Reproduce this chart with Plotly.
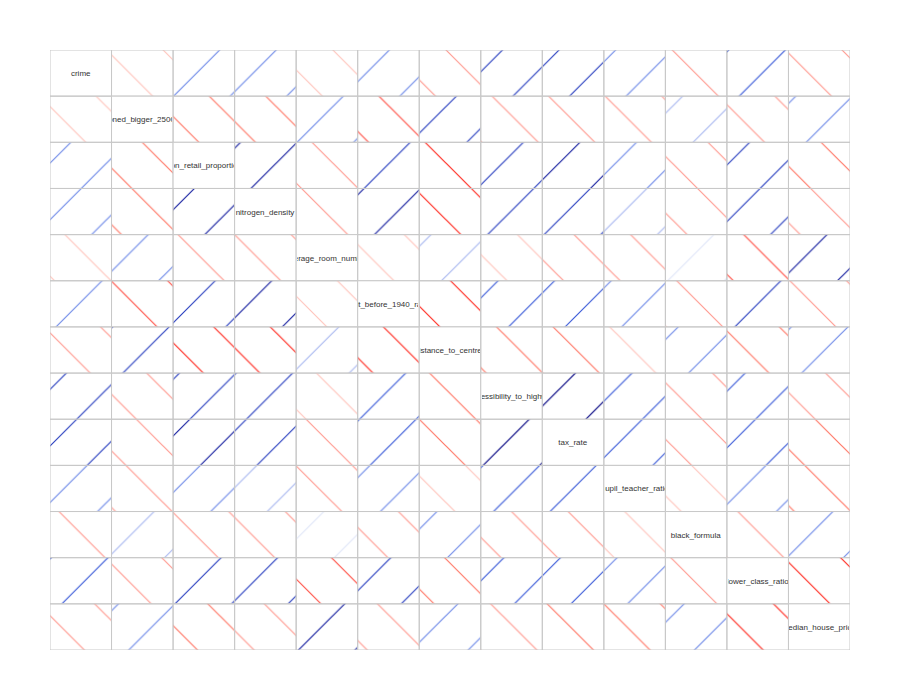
import plotly.graph_objects as go

labels = ["crime", "zoned_bigger_25000", "non_retail_proportion", "nitrogen_density",
          "average_room_number", "built_before_1940_ratio", "distance_to_centres",
          "accessibility_to_highway", "tax_rate", "pupil_teacher_ratio",
          "black_formula", "lower_class_ratio", "median_house_price"]

corr = [
    [1, -0.20, 0.41, 0.42, -0.22, 0.35, -0.38, 0.63, 0.58, 0.29, -0.39, 0.46, -0.39],
    [-0.20, 1, -0.53, -0.52, 0.31, -0.57, 0.66, -0.31, -0.31, -0.39, 0.18, -0.41, 0.36],
    [0.41, -0.53, 1, 0.76, -0.39, 0.64, -0.71, 0.60, 0.72, 0.38, -0.36, 0.60, -0.48],
    [0.42, -0.52, 0.76, 1, -0.30, 0.73, -0.77, 0.61, 0.67, 0.19, -0.38, 0.59, -0.43],
    [-0.22, 0.31, -0.39, -0.30, 1, -0.24, 0.21, -0.21, -0.29, -0.36, 0.13, -0.61, 0.70],
    [0.35, -0.57, 0.64, 0.73, -0.24, 1, -0.75, 0.46, 0.51, 0.26, -0.27, 0.60, -0.38],
    [-0.38, 0.66, -0.71, -0.77, 0.21, -0.75, 1, -0.49, -0.53, -0.23, 0.29, -0.50, 0.25],
    [0.63, -0.31, 0.60, 0.61, -0.21, 0.46, -0.49, 1, 0.91, 0.46, -0.44, 0.49, -0.38],
    [0.58, -0.31, 0.72, 0.67, -0.29, 0.51, -0.53, 0.91, 1, 0.46, -0.44, 0.54, -0.47],
    [0.29, -0.39, 0.38, 0.19, -0.36, 0.26, -0.23, 0.46, 0.46, 1, -0.18, 0.37, -0.51],
    [-0.39, 0.18, -0.36, -0.38, 0.13, -0.27, 0.29, -0.44, -0.44, -0.18, 1, -0.37, 0.33],
    [0.46, -0.41, 0.60, 0.59, -0.61, 0.60, -0.50, 0.49, 0.54, 0.37, -0.37, 1, -0.74],
    [-0.39, 0.36, -0.48, -0.43, 0.70, -0.38, 0.25, -0.38, -0.47, -0.51, 0.33, -0.74, 1],
]

pos_bins = [(0.15, "#e0e6f8"), (0.25, "#a9b8f0"), (0.45, "#6f8ae8"), (0.55, "#3a5ad8"),
            (0.70, "#2a40c0"), (0.85, "#1620a0"), (1.01, "#000080")]
neg_bins = [(0.15, "#ffe0dc"), (0.25, "#ffc4bc"), (0.45, "#ff9a90"), (0.55, "#ff7766"),
            (0.70, "#ff5045"), (1.01, "#ff2a20")]

def colour(v):
    bins = pos_bins if v >= 0 else neg_bins
    for lim, c in bins:
        if abs(v) < lim:
            return c
    return bins[-1][1]

n = len(labels)
fig = go.Figure()
for r in range(n):
    cols, shapes = [], []
    for c in range(n):
        if r == c:
            cols.append("white"); shapes.append("")
        else:
            cols.append(colour(corr[r][c])); shapes.append("/" if corr[r][c] >= 0 else "\\")
    fig.add_trace(go.Bar(x=list(range(n)), y=[1] * n, base=[r - 0.5] * n, width=1,
                         marker=dict(color=cols, line=dict(color="#c8c8c8", width=1),
                                     pattern=dict(shape=shapes, fgcolor="white", bgcolor=cols,
                                                  size=40, solidity=0.03, fillmode="replace")),
                         showlegend=False, hoverinfo="skip"))

for i, lab in enumerate(labels):
    fig.add_annotation(x=i, y=i, text=lab, showarrow=False, width=60, height=44,
                       font=dict(size=8, color="#333", family="Liberation Sans"))

fig.update_layout(width=900, height=700, barmode="overlay", plot_bgcolor="white",
                  paper_bgcolor="white", margin=dict(l=42, r=58, t=42, b=58),
                  xaxis=dict(visible=False, range=[-0.5, n - 0.5]),
                  yaxis=dict(visible=False, range=[n - 0.5, -0.5]))
fig.write_html("out.html")
